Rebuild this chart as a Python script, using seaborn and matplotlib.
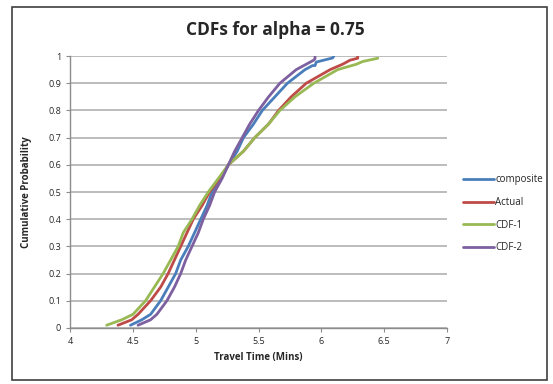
import matplotlib
matplotlib.use('Agg')
import matplotlib.pyplot as plt
import seaborn as sns
import pandas as pd
from matplotlib.patches import Rectangle

# values (travel time, cumulative probability)
probs = [0.01, 0.03, 0.05, 0.10, 0.15, 0.20, 0.25, 0.30, 0.35, 0.40, 0.45, 0.50,
         0.55, 0.60, 0.65, 0.70, 0.75, 0.80, 0.85, 0.90, 0.95]

composite_x = [4.48, 4.57, 4.64, 4.72, 4.78, 4.84, 4.88, 4.94, 4.99, 5.04, 5.09, 5.13,
               5.20, 5.26, 5.33, 5.38, 5.46, 5.53, 5.63, 5.73, 5.87]
actual_x = [4.38, 4.49, 4.54, 4.64, 4.72, 4.78, 4.83, 4.88, 4.93, 4.98, 5.05, 5.11,
            5.19, 5.26, 5.38, 5.47, 5.58, 5.66, 5.76, 5.88, 6.07]
cdf1_x = [4.29, 4.41, 4.50, 4.60, 4.67, 4.74, 4.80, 4.86, 4.90, 4.97, 5.03, 5.10,
          5.18, 5.26, 5.38, 5.47, 5.58, 5.67, 5.79, 5.94, 6.13]
cdf2_x = [4.54, 4.64, 4.69, 4.77, 4.83, 4.88, 4.92, 4.97, 5.02, 5.06, 5.11, 5.15,
          5.21, 5.26, 5.31, 5.37, 5.43, 5.50, 5.58, 5.67, 5.80]

# upper tails, where each curve flattens out and stops
composite_tail_x = [5.93, 5.95, 5.96, 6.09, 6.10]
composite_tail_y = [0.965, 0.965, 0.978, 0.993, 1.0]
actual_tail_x = [6.17, 6.23, 6.29, 6.29]
actual_tail_y = [0.97, 0.985, 0.992, 1.0]
cdf1_tail_x = [6.28, 6.33, 6.45]
cdf1_tail_y = [0.97, 0.98, 0.992]
cdf2_tail_x = [5.88, 5.94, 5.95, 5.95]
cdf2_tail_y = [0.97, 0.985, 0.99, 1.0]

series = ['composite', 'Actual', 'CDF-1', 'CDF-2']
colors = ['#4A7EBB', '#BE4B48', '#98B954', '#7D60A0']

frames = []
for name, xs, tx, ty in zip(series,
                            [composite_x, actual_x, cdf1_x, cdf2_x],
                            [composite_tail_x, actual_tail_x, cdf1_tail_x, cdf2_tail_x],
                            [composite_tail_y, actual_tail_y, cdf1_tail_y, cdf2_tail_y]):
    frames.append(pd.DataFrame({'time': xs + tx, 'prob': probs + ty, 'series': name}))
df = pd.concat(frames, ignore_index=True)

sns.set_style('white')
plt.rcParams['font.family'] = ['Open Sans', 'DejaVu Sans']

fig = plt.figure(figsize=(5.53, 3.84), dpi=100)
ax = fig.add_axes([0.127, 0.146, 0.681, 0.708])

sns.lineplot(data=df, x='time', y='prob', hue='series', hue_order=series,
             palette=colors, sort=False, estimator=None, units='series',
             linewidth=2, ax=ax)

ax.set_xlim(4, 7)
ax.set_ylim(0, 1)
ax.set_xticks([4, 4.5, 5, 5.5, 6, 6.5, 7])
ax.set_xticklabels(['4', '4.5', '5', '5.5', '6', '6.5', '7'])
ax.set_yticks([i / 10 for i in range(11)])
ax.set_yticklabels(['0', '0.1', '0.2', '0.3', '0.4', '0.5', '0.6', '0.7', '0.8', '0.9', '1'])
ax.tick_params(axis='both', labelsize=6.5, length=3, color='#8c8c8c', direction='out')
ax.tick_params(axis='x', bottom=True)
ax.tick_params(axis='y', left=True)
ax.grid(axis='y', color='#b0b0b0', linewidth=1.2)
ax.set_axisbelow(True)
for side in ['top', 'right']:
    ax.spines[side].set_visible(False)
for side in ['left', 'bottom']:
    ax.spines[side].set_color('#8c8c8c')
    ax.spines[side].set_linewidth(1)

ax.set_xlabel('Travel Time (Mins)', fontsize=7, fontweight='bold')
ax.set_ylabel('Cumulative Probability', fontsize=7, fontweight='bold', labelpad=12)
fig.suptitle('CDFs for alpha = 0.75', fontsize=12.5, fontweight='bold', x=0.497, y=0.945)

ax.legend(loc='center left', bbox_to_anchor=(1.02, 0.42), frameon=False,
          fontsize=7, handlelength=3.2, handletextpad=0.1, labelspacing=1.2)

fig.patches.append(Rectangle((0.022, 0.01), 0.968, 0.972, transform=fig.transFigure,
                             fill=False, edgecolor='#404040', linewidth=1.2))

fig.savefig('out.png', dpi=100)
